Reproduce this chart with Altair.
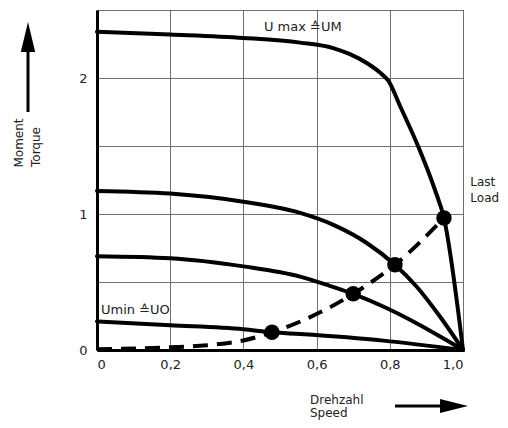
import altair as alt
import pandas as pd

# ---- data ----
umax_x = [0, 0.2, 0.4, 0.555, 0.645, 0.691, 0.737, 0.773, 0.796, 0.828, 0.878, 0.923, 0.948, 1.0]
umax_y = [2.34, 2.32, 2.295, 2.26, 2.22, 2.175, 2.11, 2.04, 1.98, 1.794, 1.494, 1.18, 0.97, 0.0]
u2_x = [0, 0.2, 0.4, 0.555, 0.646, 0.737, 0.814, 0.873, 0.937, 1.0]
u2_y = [1.17, 1.15, 1.09, 1.008, 0.92, 0.787, 0.627, 0.467, 0.246, 0.0]
u3_x = [0, 0.2, 0.4, 0.555, 0.627, 0.700, 0.782, 0.873, 0.946, 1.0]
u3_y = [0.69, 0.675, 0.615, 0.54, 0.48, 0.413, 0.32, 0.197, 0.086, 0.0]
umin_x = [0, 0.2, 0.4, 0.478, 0.555, 0.782, 1.0]
umin_y = [0.21, 0.182, 0.152, 0.13, 0.117, 0.069, 0.0]
load_x = [0, 0.2, 0.3, 0.4, 0.478, 0.700, 0.814, 0.948]
load_y = [0.005, 0.02, 0.035, 0.07, 0.13, 0.413, 0.627, 0.97]
op_x = [0.478, 0.700, 0.814, 0.948]
op_y = [0.13, 0.413, 0.627, 0.97]

x_ticks = [0, 0.2, 0.4, 0.6, 0.8, 1.0]
y_ticks = [0, 0.5, 1.0, 1.5, 2.0, 2.5]

FONT = "DejaVu Sans"
TXT = "#222222"

rows = []
for name, xs, ys in [("umax", umax_x, umax_y), ("u2", u2_x, u2_y),
                     ("u3", u3_x, u3_y), ("umin", umin_x, umin_y)]:
    for i, (a, b) in enumerate(zip(xs, ys)):
        rows.append({"series": name, "order": i, "speed": a, "torque": b})
curves = pd.DataFrame(rows)
load = pd.DataFrame({"speed": load_x, "torque": load_y, "order": range(len(load_x))})
ops = pd.DataFrame({"speed": op_x, "torque": op_y})

xs = alt.Scale(domain=[0, 1], nice=False, zero=False)
ys = alt.Scale(domain=[0, 2.5], nice=False, zero=False)

x_axis = alt.Axis(values=x_ticks, grid=True, ticks=False, title=None,
                  labelExpr="datum.value == 0 ? '0' : replace(format(datum.value, '.1f'), '.', ',')",
                  labelPadding=8)
y_axis = alt.Axis(values=y_ticks, grid=True, ticks=False, title=None,
                  labelExpr="datum.value % 1 == 0 ? format(datum.value, 'd') : ''",
                  labelPadding=10)

X = alt.X("speed:Q", scale=xs, axis=x_axis)
Y = alt.Y("torque:Q", scale=ys, axis=y_axis)

lines = alt.Chart(curves).mark_line(color="black", strokeWidth=4, interpolate="monotone",
                                    strokeCap="round").encode(
    x=X, y=Y, detail="series:N", order="order:Q")

load_line = alt.Chart(load).mark_line(color="black", strokeWidth=4, interpolate="monotone",
                                      strokeDash=[15, 9]).encode(
    x=alt.X("speed:Q", scale=xs), y=alt.Y("torque:Q", scale=ys), order="order:Q")

dots = alt.Chart(ops).mark_circle(color="black", opacity=1, size=240).encode(
    x=alt.X("speed:Q", scale=xs), y=alt.Y("torque:Q", scale=ys))

labels = pd.DataFrame({
    "speed": [0.456, 0.011],
    "torque": [2.375, 0.295],
    "text": ["U max \u2259UM", "Umin \u2259UO"],
})
label_layer = alt.Chart(labels).mark_text(align="left", baseline="middle", font=FONT,
                                          fontSize=13, color=TXT).encode(
    x=alt.X("speed:Q", scale=xs), y=alt.Y("torque:Q", scale=ys), text="text:N")

side = pd.DataFrame({
    "speed": [1.02, 1.02],
    "torque": [1.235, 1.12],
    "text": ["Last", "Load"],
})
side_layer = alt.Chart(side).mark_text(align="left", baseline="middle", font=FONT,
                                       fontSize=12, color=TXT).encode(
    x=alt.X("speed:Q", scale=xs), y=alt.Y("torque:Q", scale=ys), text="text:N")

one = pd.DataFrame({"k": [0]})

# axis titles with arrows (placed in pixels relative to plot origin)
t_moment = alt.Chart(one).mark_text(angle=270, align="center", baseline="middle", font=FONT,
                                    fontSize=12, color=TXT, text="Moment").encode(
    x=alt.value(-78), y=alt.value(133))
t_torque = alt.Chart(one).mark_text(angle=270, align="center", baseline="middle", font=FONT,
                                    fontSize=12, color=TXT, text="Torque").encode(
    x=alt.value(-61), y=alt.value(137))
up_shaft = alt.Chart(one).mark_rule(color="black", strokeWidth=3).encode(
    x=alt.value(-69), y=alt.value(40), y2=alt.value(102))
up_head = alt.Chart(one).mark_point(shape="M0,-1L0.48,1L-0.48,1Z", filled=True, color="black",
                                    opacity=1, size=900, strokeWidth=0).encode(
    x=alt.value(-69), y=alt.value(27))

t_drehzahl = alt.Chart(one).mark_text(align="left", baseline="middle", font=FONT,
                                      fontSize=12, color=TXT, text="Drehzahl").encode(
    x=alt.value(213), y=alt.value(390))
t_speed = alt.Chart(one).mark_text(align="left", baseline="middle", font=FONT,
                                   fontSize=12, color=TXT, text="Speed").encode(
    x=alt.value(213), y=alt.value(403))
r_shaft = alt.Chart(one).mark_rule(color="black", strokeWidth=3).encode(
    x=alt.value(298), x2=alt.value(345), y=alt.value(396))
r_head = alt.Chart(one).mark_point(shape="M-1,-0.5L1,0L-1,0.5Z", filled=True, color="black",
                                   opacity=1, size=784, strokeWidth=0).encode(
    x=alt.value(357), y=alt.value(396))

chart = alt.layer(
    lines, load_line, dots, label_layer, side_layer,
    t_moment, t_torque, up_shaft, up_head,
    t_drehzahl, t_speed, r_shaft, r_head,
).properties(
    width=366, height=340,
    autosize=alt.AutoSizeParams(type="none"),
    padding={"left": 89, "top": 2, "right": 37, "bottom": 70},
).configure_view(
    stroke="black", strokeWidth=1
).configure_axis(
    gridColor="#707070", gridWidth=1, gridOpacity=1,
    domainColor="black", domainWidth=3,
    labelFont=FONT, labelFontSize=13, labelColor=TXT,
)

chart.save("out.html", embed_options={"renderer": "svg", "actions": False})
